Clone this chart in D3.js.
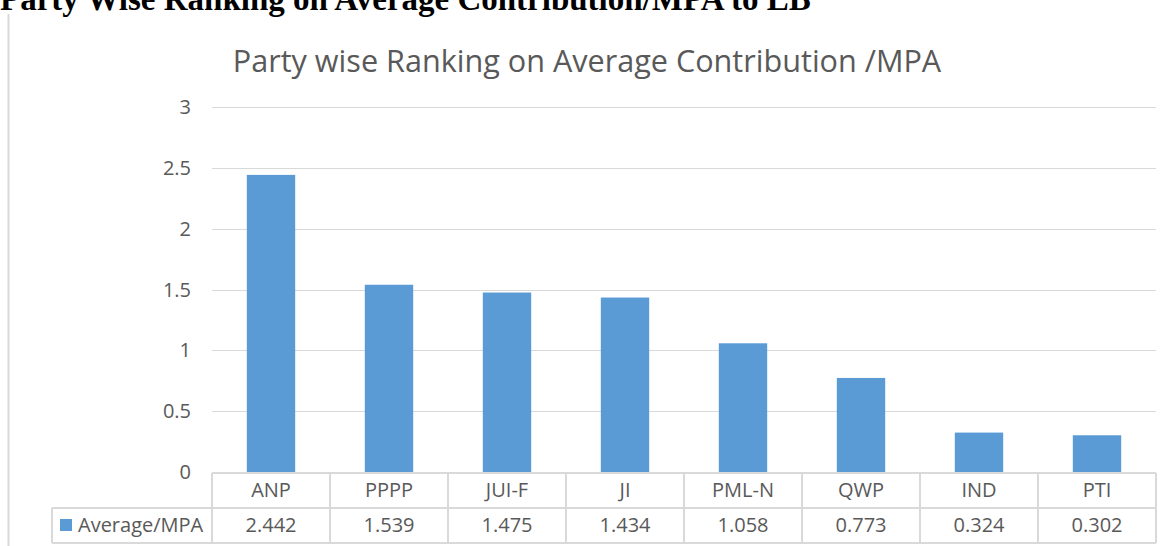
<html>
<head>
	<meta charset="utf-8">
	<title>party ranking</title>
	<script src="https://cdn.jsdelivr.net/npm/d3@7"></script>
	<style>
		body {
			margin: 0;
			background: #fff;
		}
		.grid line {
			stroke: #d9d9d9;
			stroke-width: 1;
		}
		.tbl line {
			stroke: #d9d9d9;
			stroke-width: 2;
		}
		.lbl {
			font-family: "Open Sans", "Noto Sans", sans-serif;
			font-size: 20px;
			fill: #595959;
		}
	</style>
</head>
<body>
	<svg id="chart" width="1170" height="546"></svg>
</body>
<script>

var parties = ["ANP", "PPPP", "JUI-F", "JI", "PML-N", "QWP", "IND", "PTI"];
var values = [2.442, 1.539, 1.475, 1.434, 1.058, 0.773, 0.324, 0.302];
var yTicks = [0, 0.5, 1, 1.5, 2, 2.5, 3];
var seriesName = "Average/MPA";

var svg = d3.select("#chart");

// plot box
var plotLeft = 212, plotRight = 1156, plotTop = 107, zeroY = 472;

var x = d3.scaleBand()
	.domain(parties)
	.range([plotLeft, plotRight])
	.paddingInner(0.59)
	.paddingOuter(0.295);

var xCol = d3.scaleBand()
	.domain(parties)
	.range([plotLeft, plotRight]);

var y = d3.scaleLinear()
	.domain([0, 3])
	.range([zeroY, plotTop]);

// page title (cut at the top edge)
svg.append("text")
	.attr("x", 0)
	.attr("y", 10)
	.attr("font-family", "'Liberation Serif', 'Times New Roman', serif")
	.attr("font-weight", "bold")
	.attr("font-size", 33)
	.attr("fill", "#000")
	.text("Party Wise Ranking on Average Contribution/MPA to LB");

// left border line
svg.append("line")
	.attr("x1", 8.5).attr("x2", 8.5)
	.attr("y1", 14).attr("y2", 546)
	.attr("stroke", "#d9d9d9")
	.attr("stroke-width", 2);

// chart title
svg.append("text")
	.attr("x", 587)
	.attr("y", 72)
	.attr("text-anchor", "middle")
	.attr("font-family", "'Open Sans', sans-serif")
	.attr("font-size", 30.6)
	.attr("fill", "#595959")
	.text("Party wise Ranking on Average Contribution /MPA");

// grid
var gridG = svg.append("g").attr("class", "grid");
gridG.selectAll("line")
	.data(yTicks.filter(function(d) { return d > 0; }))
	.enter().append("line")
		.attr("x1", plotLeft)
		.attr("x2", plotRight)
		.attr("y1", function(d) { return Math.round(y(d)) + 0.5; })
		.attr("y2", function(d) { return Math.round(y(d)) + 0.5; });

// y labels
svg.append("g").selectAll("text")
	.data(yTicks)
	.enter().append("text")
		.attr("class", "lbl")
		.attr("x", 191)
		.attr("y", function(d) { return y(d) + 7; })
		.attr("text-anchor", "end")
		.text(function(d) { return d; });

// bars
svg.append("g").selectAll("rect")
	.data(values)
	.enter().append("rect")
		.attr("x", function(d, i) { return x(parties[i]); })
		.attr("width", x.bandwidth())
		.attr("y", function(d) { return y(d); })
		.attr("height", function(d) { return zeroY - y(d); })
		.attr("fill", "#5b9bd5");

// data table
var rowTop = 473, rowMid = 508, rowBot = 543, legLeft = 52;
var tbl = svg.append("g").attr("class", "tbl");
tbl.append("line").attr("x1", plotLeft).attr("x2", plotRight).attr("y1", rowTop).attr("y2", rowTop);
tbl.append("line").attr("x1", legLeft).attr("x2", plotRight).attr("y1", rowMid).attr("y2", rowMid);
tbl.append("line").attr("x1", legLeft).attr("x2", plotRight).attr("y1", rowBot).attr("y2", rowBot);
tbl.append("line").attr("x1", legLeft).attr("x2", legLeft).attr("y1", rowMid).attr("y2", rowBot);
tbl.selectAll(".col")
	.data(parties.concat(["end"]))
	.enter().append("line")
		.attr("class", "col")
		.attr("x1", function(d, i) { return plotLeft + i * xCol.bandwidth(); })
		.attr("x2", function(d, i) { return plotLeft + i * xCol.bandwidth(); })
		.attr("y1", rowTop)
		.attr("y2", rowBot);

svg.append("g").selectAll("text")
	.data(parties)
	.enter().append("text")
		.attr("class", "lbl")
		.attr("x", function(d) { return xCol(d) + xCol.bandwidth() / 2; })
		.attr("y", 497)
		.attr("text-anchor", "middle")
		.text(function(d) { return d; });

svg.append("g").selectAll("text")
	.data(values)
	.enter().append("text")
		.attr("class", "lbl")
		.attr("x", function(d, i) { return xCol(parties[i]) + xCol.bandwidth() / 2; })
		.attr("y", 532)
		.attr("text-anchor", "middle")
		.text(function(d) { return d3.format(".3f")(d); });

// legend key
svg.append("rect")
	.attr("x", 60).attr("y", 519)
	.attr("width", 12).attr("height", 12)
	.attr("fill", "#5b9bd5");
svg.append("text")
	.attr("class", "lbl")
	.attr("x", 78)
	.attr("y", 532)
	.text(seriesName);

</script>
</html>
